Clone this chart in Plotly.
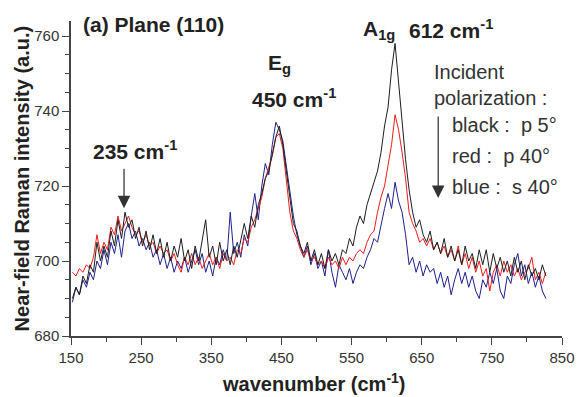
import plotly.graph_objects as go

# Raman shift sampling grid (cm^-1)
wavenumber = list(range(152, 828, 5))

# Intensity (a.u.)
black_p5 = [
    690, 693, 691, 696, 694, 699, 697, 705, 700, 704,
    701, 708, 704, 711, 706, 713, 709, 711, 706, 709,
    704, 708, 703, 707, 702, 706, 701, 705, 700, 704,
    701, 706, 700, 703, 698, 704, 700, 706, 711, 701,
    704, 699, 705, 700, 703, 699, 704, 701, 706, 710,
    706, 712, 709, 715, 718, 722, 724, 729, 733, 736,
    731, 724, 717, 710, 708, 704, 702, 705, 700, 703,
    699, 702, 698, 703, 700, 702, 699, 703, 702, 706,
    704, 709, 712, 710, 715, 718, 721, 724, 729, 736,
    741, 751, 758, 748, 736, 727, 719, 713, 709, 711,
    707, 705, 708, 703, 705, 702, 706, 701, 704, 700,
    703, 699, 704, 700, 702, 698, 703, 699, 703, 697,
    702, 698, 701, 697, 700, 696, 701, 697, 700, 695,
    699, 696, 698, 695, 699, 696,
]
red_p40 = [
    697, 696, 698, 697, 699, 698, 701, 707, 702, 705,
    703, 709, 707, 712, 708, 710, 712, 709, 707, 708,
    705, 707, 704, 705, 702, 704, 702, 703, 700, 702,
    699, 697, 701, 699, 702, 699, 701, 698, 700, 702,
    699, 701, 698, 702, 700, 701, 699, 703, 702, 706,
    705, 709, 711, 714, 717, 722, 725, 728, 733, 734,
    730, 722, 713, 708, 706, 703, 701, 703, 700, 701,
    699, 700, 698, 701, 699, 700, 698, 701, 699, 701,
    700, 702, 703, 702, 705, 707, 708, 713, 717, 720,
    726, 731, 739, 735, 729, 722, 713, 710, 708, 705,
    706, 704, 706, 703, 705, 702, 704, 701, 703, 700,
    704, 699, 702, 698, 701, 697, 700, 696, 698, 692,
    697, 699, 696, 700, 697, 699, 696, 698, 695, 697,
    698, 701, 695, 697, 694, 697,
]
blue_s40 = [
    689, 693, 691, 695, 693, 697, 695, 700, 698, 703,
    699, 705, 702, 707, 701, 708, 710, 706, 708, 704,
    706, 703, 705, 701, 703, 699, 702, 698, 701, 697,
    700, 698, 701, 697, 700, 703, 699, 702, 697, 700,
    696, 701, 699, 703, 700, 713, 702, 705, 701, 707,
    704, 712, 718, 711, 720, 726, 723, 731, 737, 735,
    732, 725, 718, 712, 707, 704, 701, 704, 699, 702,
    698, 700, 696, 703, 697, 693, 699, 697, 695, 698,
    694, 697, 699, 698, 701, 703, 706, 705, 710, 714,
    718, 714, 721, 716, 713, 707, 699, 701, 697, 700,
    696, 699, 697, 698, 694, 697, 693, 696, 691, 695,
    698, 694, 697, 693, 696, 692, 690, 695, 693, 697,
    694, 698, 692, 690, 696, 694, 699, 702, 696, 699,
    694, 697, 693, 696, 692, 690,
]

x_ticks = [150, 250, 350, 450, 550, 650, 750, 850]
y_ticks = [680, 700, 720, 740, 760]

FONT = "Arial, Liberation Sans, sans-serif"
TXT = "#333333"

fig = go.Figure()
for ys, col in [(blue_s40, "#1f1f8f"), (red_p40, "#ee1c1c"), (black_p5, "#1e1e1e")]:
    fig.add_trace(go.Scatter(x=wavenumber, y=ys, mode="lines",
                             line=dict(color=col, width=1), showlegend=False,
                             hoverinfo="skip"))

axis_common = dict(showline=True, linecolor="#444444", linewidth=1.5,
                   ticks="outside", ticklen=7, tickwidth=1, tickcolor="#444444",
                   showgrid=False, zeroline=False, automargin=False,
                   tickfont=dict(family=FONT, size=15, color=TXT))
fig.update_xaxes(range=[150, 850], tickvals=x_ticks,
                 minor=dict(dtick=50, tick0=150, ticks="outside", ticklen=4,
                            tickcolor="#444444", showgrid=False),
                 **axis_common)
fig.update_yaxes(range=[680, 764], tickvals=y_ticks,
                 minor=dict(dtick=5, tick0=680, ticks="outside", ticklen=4,
                            tickcolor="#444444", showgrid=False),
                 **axis_common)

def label(text, x, y, size=21, bold=True, color="#222222"):
    fig.add_annotation(x=x, y=y, xref="x", yref="y", text=text, showarrow=False,
                       xanchor="left", yanchor="middle",
                       font=dict(family=FONT, size=size, color=color,
                                 weight="bold" if bold else "normal"))

label("(a) Plane (110)", 164, 763.2)
label("E<sub>g</sub>", 427.5, 752.5)
label("450 cm<sup>-1</sup>", 405, 743.5)
label("A<sub>1g</sub>", 564, 761.5)
label("612 cm<sup>-1</sup>", 629, 761.9)
label("235 cm<sup>-1</sup>", 179, 729.6)
label("Incident", 664.7, 750.4, size=20, bold=False, color=TXT)
label("polarization :", 664.7, 743.5, size=20, bold=False, color=TXT)
label("black :  p 5°", 690.3, 736.3, size=20, bold=False, color=TXT)
label("red :  p 40°", 690.3, 728.0, size=20, bold=False, color=TXT)
label("blue :  s 40°", 690.3, 719.7, size=20, bold=False, color=TXT)

# arrows
for ax_x, tip_y, length in [(225.6, 714.1, 41), (673.5, 716.8, 83)]:
    fig.add_annotation(x=ax_x, y=tip_y, xref="x", yref="y", text="",
                       showarrow=True, ax=0, ay=-length, axref="pixel", ayref="pixel",
                       arrowhead=2, arrowsize=2, arrowwidth=1.25, arrowcolor="#333333")

# axis titles
fig.add_annotation(x=-0.1, y=0.5, xref="paper", yref="paper", textangle=-90,
                   text="Near-field Raman intensity (a.u.)", showarrow=False,
                   xanchor="center", yanchor="middle",
                   font=dict(family=FONT, size=20, color="#222222", weight="bold"))
fig.add_annotation(x=0.495, y=-0.149, xref="paper", yref="paper",
                   text="wavenumber (cm<sup>-1</sup>)", showarrow=False,
                   xanchor="center", yanchor="middle",
                   font=dict(family=FONT, size=20, color="#222222", weight="bold"))

fig.update_layout(width=578, height=397, margin=dict(l=71, r=16, t=21, b=61, autoexpand=False),
                  plot_bgcolor="white", paper_bgcolor="white")
fig.write_html("out.html")
